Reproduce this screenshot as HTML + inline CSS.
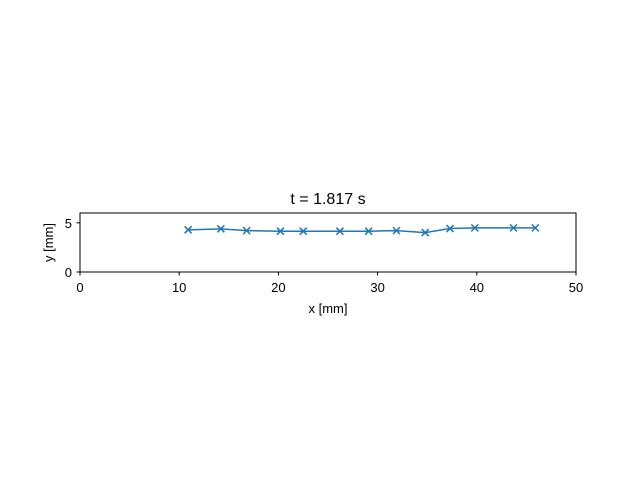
<!DOCTYPE html>
<html><head><meta charset="utf-8"><style>body{margin:0;background:#fff}svg text{font-family:"Liberation Sans",sans-serif}</style></head>
<body>
<svg width="640" height="480" id="c">
<rect width="640" height="480" fill="#fff"/>
<text x="328" y="204" font-size="16" text-anchor="middle">t = 1.817 s</text>
<g id="ticks"></g>
<polyline id="line" fill="none" stroke="#1f77b4" stroke-width="1.5"/>
<g id="marks"></g>
<rect x="80" y="213" width="496" height="59" fill="none" stroke="#000" stroke-width="1"/>
<text x="328" y="313" font-size="13" text-anchor="middle">x [mm]</text>
<text transform="translate(53,242.5) rotate(-90)" font-size="13" text-anchor="middle">y [mm]</text>
</svg>
<script>
const xs=[10.9,14.2,16.8,20.2,22.5,26.2,29.1,31.9,34.8,37.3,39.8,43.7,45.9];
const ys=[4.29,4.39,4.21,4.15,4.15,4.15,4.15,4.21,4.01,4.42,4.49,4.49,4.49];
const xTicks=[0,10,20,30,40,50];
const yTicks=[0,5];
const X=v=>80+v*496/50, Y=v=>272-v*59/6;
const ns="http://www.w3.org/2000/svg";
const tg=document.getElementById('ticks');
xTicks.forEach(t=>{
 const l=document.createElementNS(ns,'line');l.setAttribute('x1',X(t));l.setAttribute('x2',X(t));l.setAttribute('y1',272);l.setAttribute('y2',275.5);l.setAttribute('stroke','#000');
 
 
 tg.appendChild(l);
 const s=document.createElementNS(ns,'text');s.setAttribute('x',X(t));s.setAttribute('y',292);s.setAttribute('font-size','13');s.setAttribute('text-anchor','middle');s.textContent=t;
 
 
 tg.appendChild(s);
});
yTicks.forEach(t=>{
 const l=document.createElementNS(ns,'line');l.setAttribute('x1',76.5);l.setAttribute('x2',80);l.setAttribute('y1',Y(t));l.setAttribute('y2',Y(t));l.setAttribute('stroke','#000');
 
 
 tg.appendChild(l);
 const s=document.createElementNS(ns,'text');s.setAttribute('x',72);s.setAttribute('y',Y(t)+5);s.setAttribute('font-size','13');s.setAttribute('text-anchor','end');s.textContent=t;
 
 
 tg.appendChild(s);
});
document.getElementById('line').setAttribute('points',xs.map((x,i)=>X(x)+','+Y(ys[i])).join(' '));
const mg=document.getElementById('marks');
xs.forEach((x,i)=>{
 const cx=X(x),cy=Y(ys[i]),r=3.5;
 const p=document.createElementNS(ns,'path');
 p.setAttribute('d',`M${cx-r},${cy-r}L${cx+r},${cy+r}M${cx-r},${cy+r}L${cx+r},${cy-r}`);
 p.setAttribute('stroke','#1f77b4');p.setAttribute('stroke-width','1.5');
 
 
 mg.appendChild(p);
});
</script>
</body></html>
